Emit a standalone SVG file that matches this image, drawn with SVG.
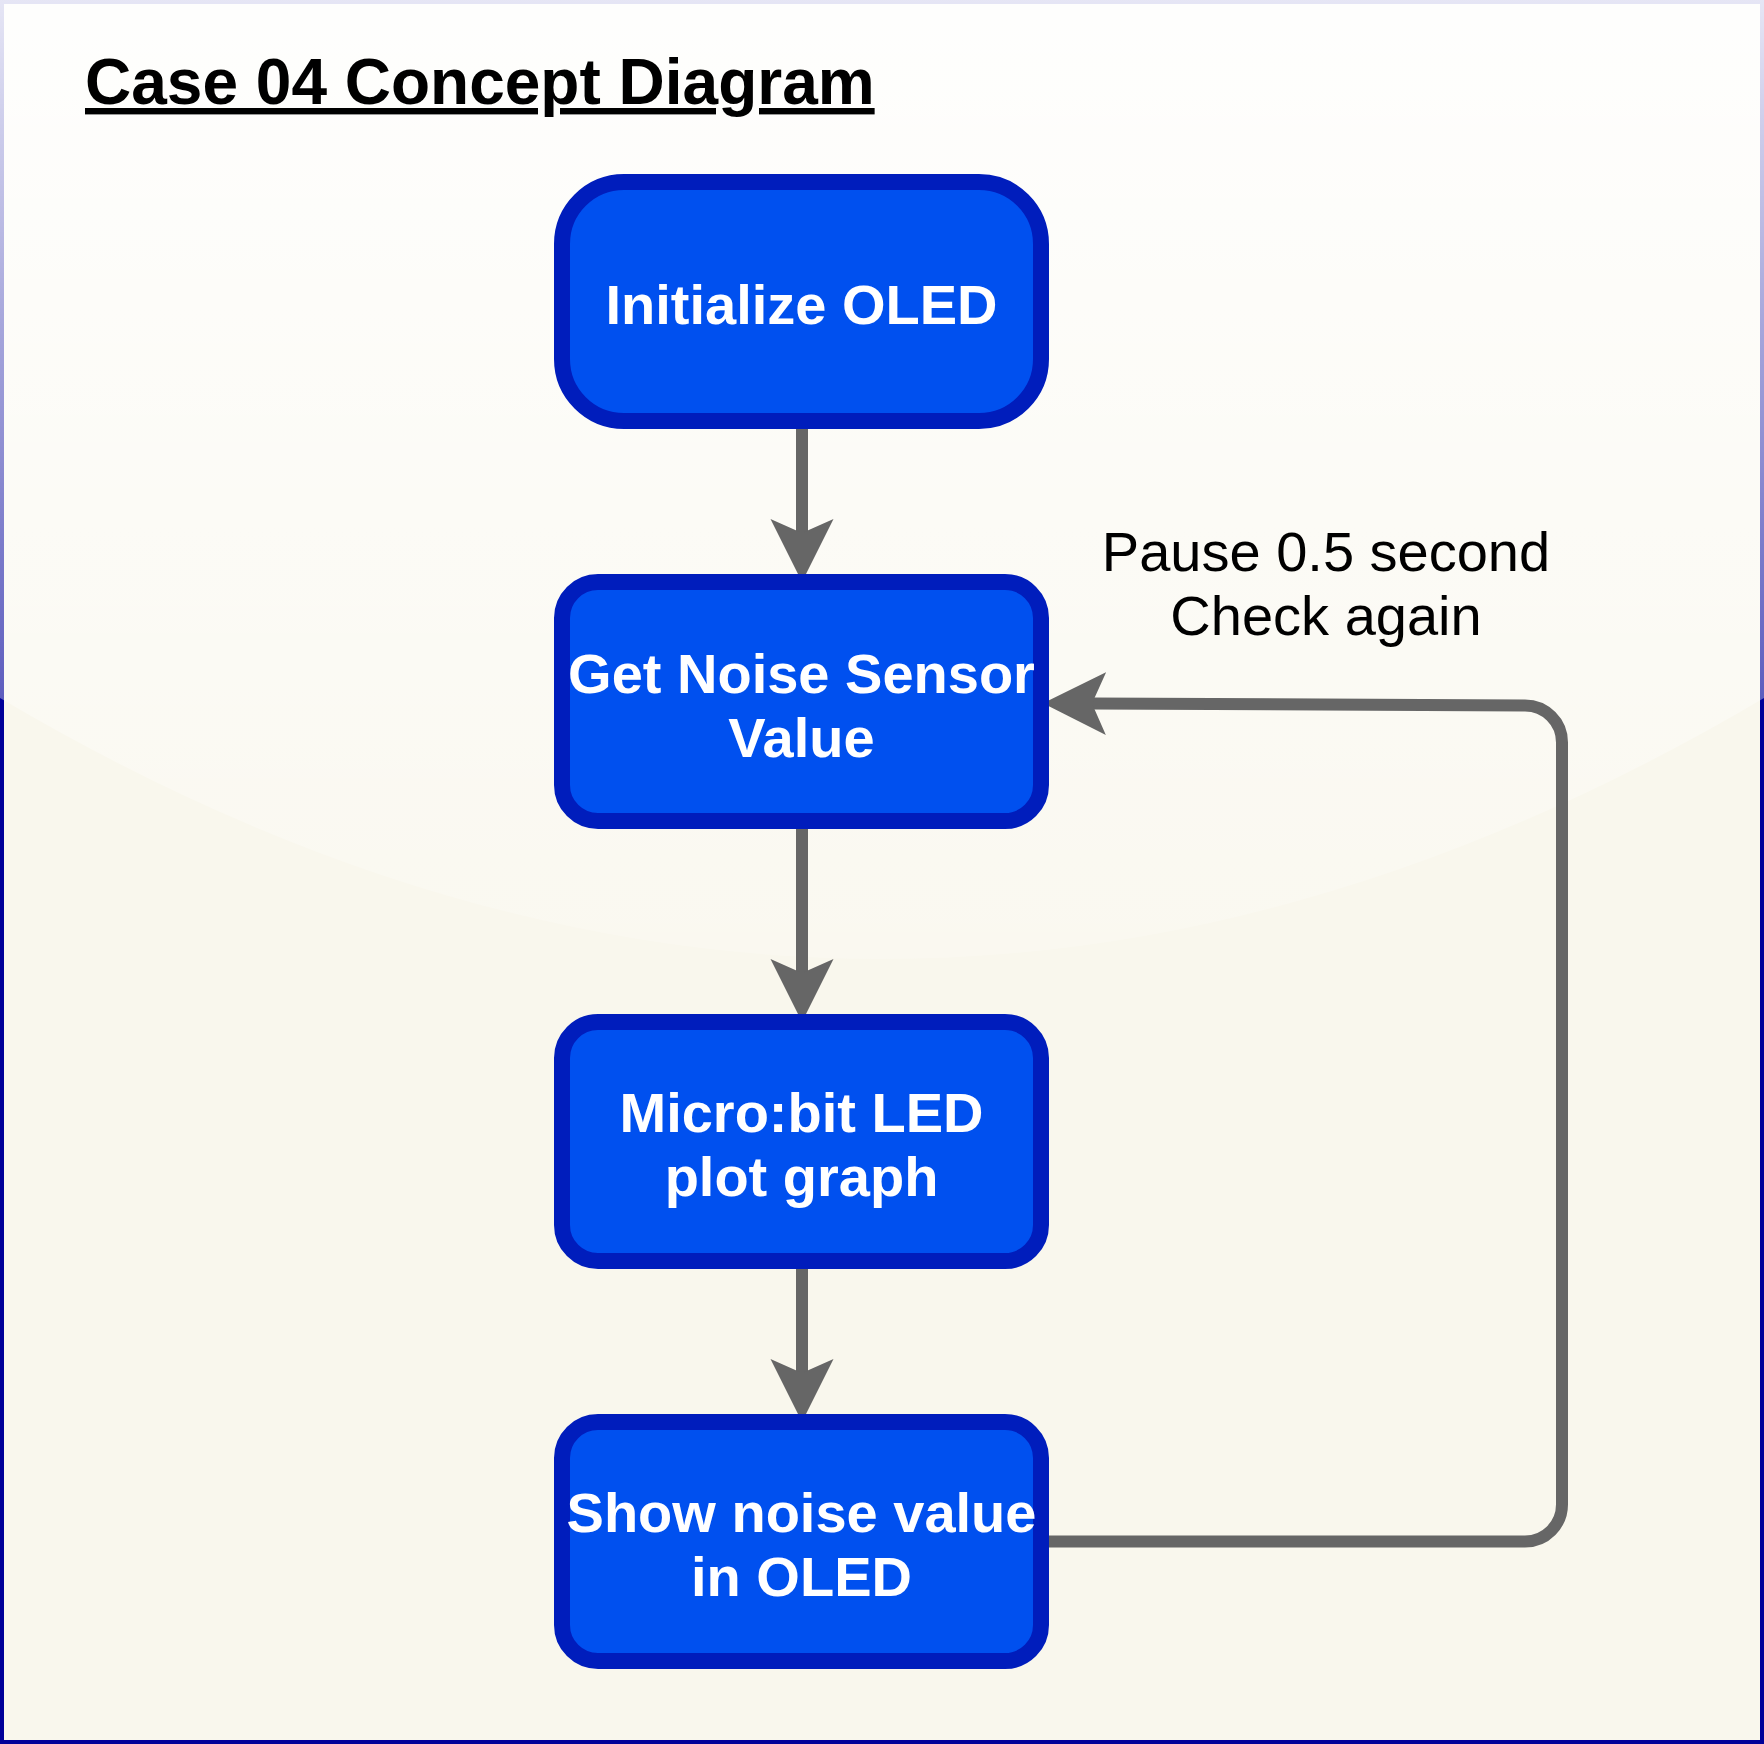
<svg xmlns="http://www.w3.org/2000/svg" width="1764" height="1744" viewBox="0 0 1764 1744">
  <defs>
    <linearGradient id="glass" gradientUnits="userSpaceOnUse" x1="0" y1="2" x2="0" y2="1046">
      <stop offset="0" stop-color="#ffffff" stop-opacity="0.9"/>
      <stop offset="1" stop-color="#ffffff" stop-opacity="0.1"/>
    </linearGradient>
    <marker id="arrow" markerUnits="userSpaceOnUse" viewBox="-14 -32 64 64" refX="0" refY="0" markerWidth="64" markerHeight="64" orient="auto">
      <path d="M49,0 L-14,-31.5 L0,0 L-14,31.5 Z" fill="#666666"/>
    </marker>
    <style>
      .node { fill: #0050ef; stroke: #001dbc; stroke-width: 16; }
      .ntext { font-family: "Liberation Sans", Arial, Helvetica, sans-serif; font-weight: bold; font-size: 56px; fill: #ffffff; text-anchor: middle; }
      .conn { fill: none; stroke: #666666; stroke-width: 12; stroke-linecap: butt; stroke-linejoin: round; marker-end: url(#arrow); }
      .label { font-family: "Liberation Sans", Arial, Helvetica, sans-serif; font-size: 56px; fill: #000000; text-anchor: middle; }
      .title { font-family: "Liberation Sans", Arial, Helvetica, sans-serif; font-weight: bold; font-size: 64px; fill: #000000; text-decoration: underline; }
    </style>
  </defs>

  <g id="background">
    <rect x="2" y="2" width="1760" height="1740" fill="#f9f7ed" stroke="#000099" stroke-width="4"/>
    <path d="M0,0 L0,698 Q882,1220 1764,698 L1764,0 Z" fill="url(#glass)"/>
  </g>

  <g id="title">
    <text class="title" x="85" y="104">Case 04 Concept Diagram</text>
  </g>

  <g id="connectors">
    <path class="conn" d="M802,422 L802,533"/>
    <path class="conn" d="M802,822 L802,973"/>
    <path class="conn" d="M802,1262 L802,1373"/>
    <path class="conn" d="M1042,1541.5 L1525,1541.5 A37,37 0 0 0 1562,1504.5 L1562,742.5 A37,37 0 0 0 1525,705.5 L1092,703.5"/>
  </g>

  <g id="node-init">
    <rect class="node" x="562" y="182" width="479" height="239" rx="62" ry="62"/>
    <text class="ntext" x="801.5" y="324">Initialize OLED</text>
  </g>

  <g id="node-get">
    <rect class="node" x="562" y="582" width="479" height="239" rx="36" ry="36"/>
    <text class="ntext" x="801.5" y="693">Get Noise Sensor</text>
    <text class="ntext" x="801.5" y="757">Value</text>
  </g>

  <g id="node-plot">
    <rect class="node" x="562" y="1022" width="479" height="239" rx="36" ry="36"/>
    <text class="ntext" x="801.5" y="1132">Micro:bit LED</text>
    <text class="ntext" x="801.5" y="1196">plot graph</text>
  </g>

  <g id="node-show">
    <rect class="node" x="562" y="1422" width="479" height="239" rx="36" ry="36"/>
    <text class="ntext" x="801.5" y="1532">Show noise value</text>
    <text class="ntext" x="801.5" y="1596">in OLED</text>
  </g>

  <g id="label-pause">
    <text class="label" x="1326" y="571">Pause 0.5 second</text>
    <text class="label" x="1326" y="635">Check again</text>
  </g>
</svg>
